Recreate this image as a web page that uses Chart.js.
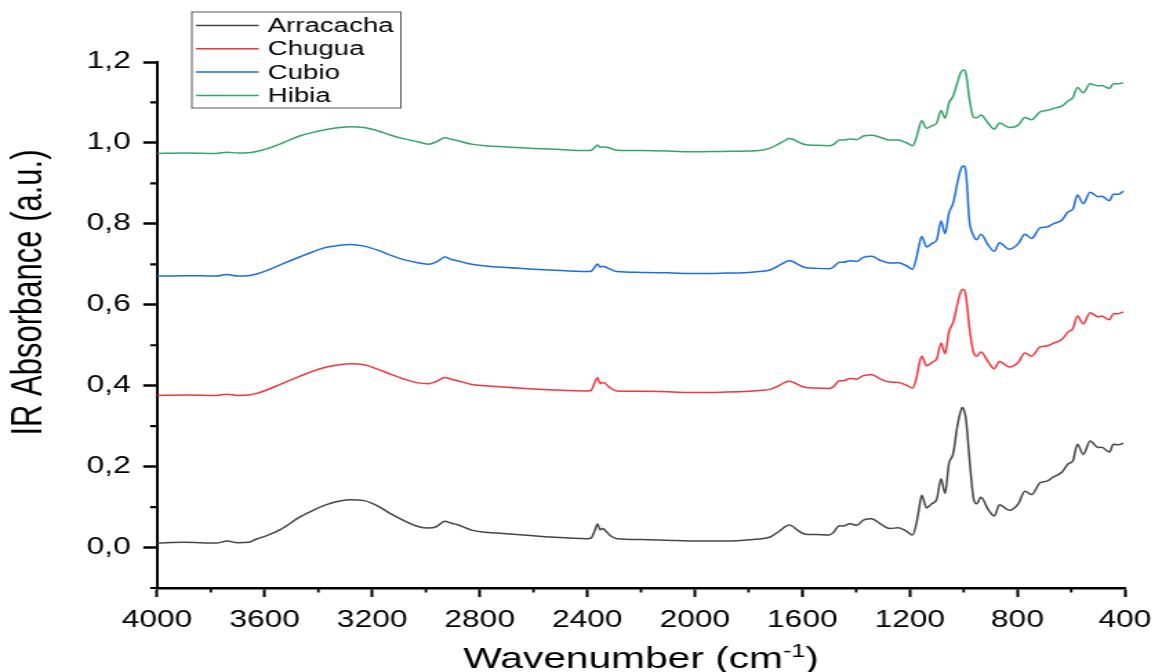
<!DOCTYPE html>
<html>
<head>
<meta charset="utf-8">
<script src="https://cdn.jsdelivr.net/npm/chart.js@4.4.1/dist/chart.umd.min.js"></script>
<style>
  html, body { margin: 0; padding: 0; background: #fff; overflow: hidden; }
  /* the plot is laid out narrow and widened horizontally */
  #wrap { width: 835px; height: 672px; transform: scaleX(1.38); transform-origin: 0 0; }
</style>
</head>
<body>
<div id="wrap"><canvas id="ftir"></canvas></div>
<script>
/* FTIR spectra — stacked absorbance curves */
const FONT = "'Liberation Sans', Arial, sans-serif";

const wavenumber = [
  4000, 3900, 3780, 3740, 3700, 3660, 3630, 3590, 3540, 3470, 3420, 3370, 3320, 3280, 3230, 3180,
  3130, 3080, 3030, 2990, 2960, 2930, 2905, 2885, 2830, 2780, 2700, 2600, 2540, 2400, 2385, 2372,
  2362, 2352, 2343, 2334, 2315, 2290, 2200, 2100, 2000, 1900, 1800, 1760, 1720, 1685, 1665, 1650,
  1635, 1620, 1590, 1550, 1500, 1485, 1462, 1448, 1423, 1398, 1373, 1342, 1311, 1275, 1243, 1212,
  1190, 1175, 1165, 1156, 1138, 1119, 1100, 1084, 1069, 1055, 1039, 1024, 1012, 1005, 998, 991,
  979, 964, 952, 936, 908, 886, 867, 830, 797, 772, 747, 716, 691, 667, 635, 611,
  594, 577, 555, 530, 499, 487, 458, 443, 425, 406
];

const arracacha = [
  0.011, 0.013, 0.011, 0.016, 0.012, 0.013, 0.021, 0.030, 0.045, 0.075, 0.092, 0.106, 0.115, 0.118, 0.116, 0.103,
  0.083, 0.066, 0.052, 0.048, 0.052, 0.065, 0.060, 0.057, 0.043, 0.038, 0.034, 0.029, 0.026, 0.022, 0.024, 0.042,
  0.058, 0.044, 0.047, 0.043, 0.030, 0.022, 0.020, 0.018, 0.016, 0.016, 0.019, 0.021, 0.026, 0.041, 0.051, 0.056,
  0.052, 0.044, 0.033, 0.032, 0.031, 0.037, 0.054, 0.053, 0.059, 0.055, 0.068, 0.071, 0.059, 0.047, 0.049, 0.040,
  0.031, 0.062, 0.100, 0.129, 0.098, 0.108, 0.120, 0.170, 0.134, 0.207, 0.232, 0.298, 0.335, 0.346, 0.338, 0.315,
  0.223, 0.124, 0.108, 0.124, 0.093, 0.078, 0.106, 0.092, 0.108, 0.139, 0.131, 0.160, 0.164, 0.174, 0.186, 0.207,
  0.214, 0.255, 0.230, 0.263, 0.247, 0.248, 0.236, 0.255, 0.254, 0.258
];

const chugua = [
  0.376, 0.377, 0.376, 0.379, 0.376, 0.377, 0.381, 0.390, 0.404, 0.423, 0.436, 0.446, 0.452, 0.454, 0.452, 0.441,
  0.428, 0.416, 0.407, 0.405, 0.411, 0.420, 0.416, 0.413, 0.403, 0.400, 0.396, 0.392, 0.390, 0.387, 0.389, 0.408,
  0.420, 0.405, 0.408, 0.406, 0.395, 0.387, 0.386, 0.385, 0.383, 0.384, 0.386, 0.388, 0.391, 0.401, 0.408, 0.411,
  0.409, 0.404, 0.396, 0.394, 0.393, 0.397, 0.412, 0.412, 0.418, 0.416, 0.425, 0.427, 0.417, 0.409, 0.408, 0.401,
  0.394, 0.421, 0.455, 0.473, 0.449, 0.457, 0.467, 0.505, 0.479, 0.533, 0.557, 0.600, 0.630, 0.638, 0.637, 0.619,
  0.545, 0.483, 0.473, 0.483, 0.458, 0.442, 0.460, 0.446, 0.458, 0.481, 0.473, 0.496, 0.498, 0.505, 0.514, 0.533,
  0.541, 0.572, 0.553, 0.580, 0.570, 0.572, 0.563, 0.578, 0.578, 0.582
];

const cubio = [
  0.671, 0.672, 0.671, 0.675, 0.671, 0.672, 0.676, 0.685, 0.699, 0.718, 0.731, 0.742, 0.747, 0.749, 0.745, 0.735,
  0.722, 0.711, 0.704, 0.700, 0.706, 0.718, 0.712, 0.709, 0.700, 0.696, 0.692, 0.688, 0.686, 0.682, 0.683, 0.693,
  0.701, 0.693, 0.695, 0.694, 0.688, 0.682, 0.680, 0.679, 0.677, 0.678, 0.680, 0.682, 0.686, 0.698, 0.705, 0.709,
  0.707, 0.701, 0.692, 0.690, 0.689, 0.693, 0.705, 0.705, 0.709, 0.707, 0.717, 0.720, 0.710, 0.703, 0.704, 0.696,
  0.688, 0.718, 0.750, 0.769, 0.743, 0.751, 0.761, 0.807, 0.776, 0.826, 0.851, 0.900, 0.932, 0.942, 0.943, 0.925,
  0.809, 0.772, 0.761, 0.774, 0.747, 0.732, 0.753, 0.737, 0.751, 0.774, 0.764, 0.790, 0.792, 0.800, 0.809, 0.830,
  0.836, 0.871, 0.850, 0.878, 0.867, 0.868, 0.857, 0.873, 0.873, 0.881
];

const hibia = [
  0.974, 0.975, 0.974, 0.977, 0.975, 0.976, 0.979, 0.986, 0.998, 1.017, 1.026, 1.033, 1.038, 1.040, 1.038, 1.030,
  1.019, 1.010, 1.003, 0.997, 1.003, 1.013, 1.009, 1.006, 0.997, 0.993, 0.990, 0.986, 0.985, 0.981, 0.982, 0.989,
  0.995, 0.989, 0.990, 0.990, 0.987, 0.982, 0.981, 0.980, 0.978, 0.979, 0.980, 0.981, 0.987, 0.999, 1.006, 1.011,
  1.009, 1.004, 0.996, 0.994, 0.993, 0.996, 1.007, 1.007, 1.010, 1.008, 1.017, 1.019, 1.014, 1.007, 1.007, 1.000,
  0.993, 1.015, 1.040, 1.055, 1.036, 1.042, 1.050, 1.080, 1.061, 1.098, 1.116, 1.148, 1.172, 1.179, 1.180, 1.170,
  1.110, 1.064, 1.062, 1.069, 1.048, 1.034, 1.049, 1.038, 1.044, 1.063, 1.057, 1.077, 1.080, 1.085, 1.091, 1.104,
  1.112, 1.137, 1.124, 1.146, 1.141, 1.142, 1.135, 1.146, 1.146, 1.149
];

const series = ['Arracacha', 'Chugua', 'Cubio', 'Hibia'];
const colors = ['#454545', '#f2363b', '#1c6ce2', '#34a468'];

const xMajor = [4000, 3600, 3200, 2800, 2400, 2000, 1600, 1200, 800, 400];
const xMinor = [3800, 3400, 3000, 2600, 2200, 1800, 1400, 1000, 600];
const yMajor = [0, 0.2, 0.4, 0.6, 0.8, 1.0, 1.2];
const yMinor = [-0.1, 0.1, 0.3, 0.5, 0.7, 0.9, 1.1];

const toPoints = vals => wavenumber.map((x, i) => ({ x, y: vals[i] }));

// minor ticks, legend box and axis titles
const decorations = {
  id: 'decorations',
  afterDraw(chart) {
    const { ctx, chartArea: a, scales: { x, y } } = chart;
    ctx.save();
    ctx.strokeStyle = '#000';

    ctx.lineWidth = 2.2;
    ctx.beginPath();
    yMinor.forEach(v => {
      const p = y.getPixelForValue(v);
      ctx.moveTo(a.left - 5, p);
      ctx.lineTo(a.left, p);
    });
    ctx.stroke();

    ctx.lineWidth = 1.8;
    ctx.beginPath();
    xMinor.forEach(v => {
      const p = x.getPixelForValue(v);
      ctx.moveTo(p, a.bottom);
      ctx.lineTo(p, a.bottom + 4.5);
    });
    ctx.stroke();

    // legend
    ctx.strokeStyle = '#555';
    ctx.lineWidth = 1;
    ctx.strokeRect(139, 12, 151.5, 96);
    ctx.font = `20px ${FONT}`;
    ctx.textBaseline = 'middle';
    ctx.textAlign = 'left';
    chart.data.datasets.forEach((ds, i) => {
      const ry = 25.5 + i * 23.3;
      ctx.strokeStyle = ds.borderColor;
      ctx.lineWidth = 1.5;
      ctx.beginPath();
      ctx.moveTo(142, ry);
      ctx.lineTo(187.5, ry);
      ctx.stroke();
      ctx.fillStyle = '#000';
      ctx.fillText(ds.label, 194, ry + 1);
    });

    // y title
    ctx.fillStyle = '#000';
    ctx.save();
    ctx.translate(30.4, 292.5);
    ctx.rotate(-Math.PI / 2);
    ctx.font = `31px ${FONT}`;
    ctx.textAlign = 'center';
    ctx.textBaseline = 'alphabetic';
    ctx.fillText('IR Absorbance (a.u.)', 0, 0);
    ctx.restore();

    // x title with superscript
    const main = 'Wavenumber (cm', sup = '-1', tail = ')';
    const big = `29.5px ${FONT}`, small = `18px ${FONT}`;
    ctx.font = big;
    const w1 = ctx.measureText(main).width, w3 = ctx.measureText(tail).width;
    ctx.font = small;
    const w2 = ctx.measureText(sup).width;
    let tx = (a.left + a.right) / 2 - (w1 + w2 + w3) / 2;
    const base = 668;
    ctx.textAlign = 'left';
    ctx.textBaseline = 'alphabetic';
    ctx.font = big;
    ctx.fillText(main, tx, base);
    tx += w1;
    ctx.font = small;
    ctx.fillText(sup, tx, base - 11);
    tx += w2;
    ctx.font = big;
    ctx.fillText(tail, tx, base);
    ctx.restore();
  }
};

new Chart(document.getElementById('ftir'), {
  type: 'line',
  data: {
    datasets: [arracacha, chugua, cubio, hibia].map((vals, i) => ({
      label: series[i],
      data: toPoints(vals),
      borderColor: colors[i],
      borderWidth: 1.5,
      pointRadius: 0,
      fill: false,
      cubicInterpolationMode: 'monotone',
    })),
  },
  options: {
    responsive: true,
    maintainAspectRatio: false,
    animation: false,
    layout: { padding: { top: 62, right: 19.8, left: 0, bottom: 0 } },
    plugins: { legend: { display: false }, tooltip: { enabled: false } },
    scales: {
      x: {
        type: 'linear',
        reverse: true,
        min: 400,
        max: 4000,
        afterBuildTicks: s => { s.ticks = xMajor.map(v => ({ value: v })); },
        afterFit: s => { s.height = 84; s.paddingLeft = 0; s.paddingRight = 0; },
        grid: { drawOnChartArea: false, drawTicks: true, tickLength: 9, tickWidth: 2, tickColor: '#000' },
        border: { display: true, color: '#000', width: 2.5 },
        ticks: {
          color: '#000',
          font: { family: FONT, size: 23 },
          padding: 10,
          maxRotation: 0,
          autoSkip: false,
          callback: v => String(v),
        },
      },
      y: {
        type: 'linear',
        min: -0.1,
        max: 1.2,
        afterBuildTicks: s => { s.ticks = yMajor.map(v => ({ value: v })); },
        afterFit: s => { s.width = 113.8; s.paddingTop = 0; s.paddingBottom = 0; },
        grid: { drawOnChartArea: false, drawTicks: true, tickLength: 10, tickWidth: 2.5, tickColor: '#000' },
        border: { display: true, color: '#000', width: 2 },
        ticks: {
          color: '#000',
          font: { family: FONT, size: 23 },
          padding: 9,
          callback: v => v.toFixed(1).replace('.', ','),
        },
      },
    },
  },
  plugins: [decorations],
});
</script>
</body>
</html>
